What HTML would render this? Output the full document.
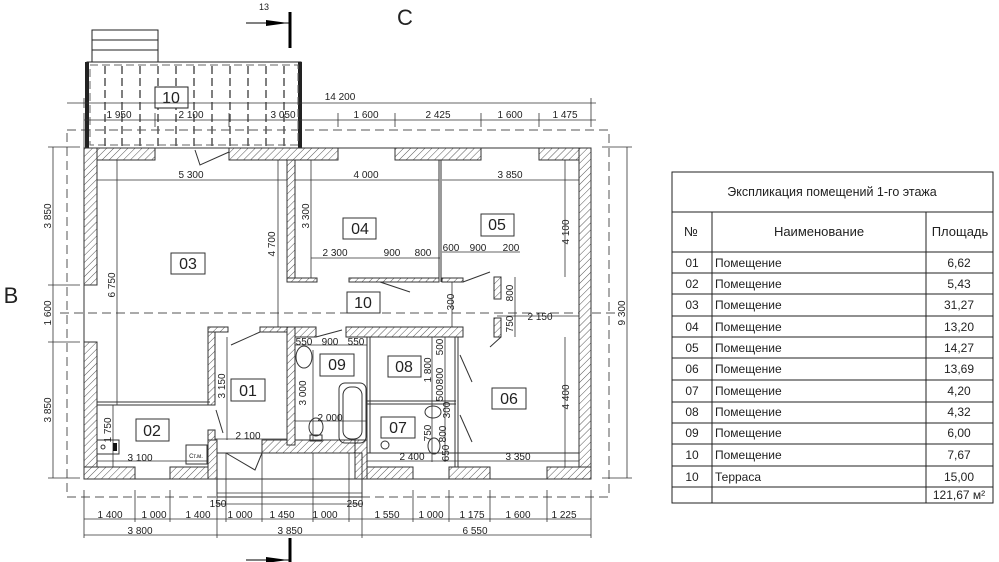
<!DOCTYPE html>
<html><head><meta charset="utf-8"><style>
html,body{margin:0;padding:0;background:#fff;width:999px;height:562px;overflow:hidden}
svg{display:block}
text{font-family:"Liberation Sans",sans-serif;fill:#222}
.d{font-size:10px;text-anchor:middle}
.b{font-size:16px;text-anchor:middle}
.t{font-size:12px}
</style></head><body>
<svg width="999" height="562" viewBox="0 0 999 562" xmlns="http://www.w3.org/2000/svg">
<defs>
<pattern id="h" width="5" height="5" patternUnits="userSpaceOnUse" patternTransform="rotate(45)">
<rect width="5" height="5" fill="#fff"/><line x1="0" y1="0" x2="0" y2="5" stroke="#444" stroke-width="0.9"/>
</pattern>
</defs>
<g stroke="#555" stroke-width="1" fill="none" stroke-dasharray="9,5">
<rect x="67" y="130" width="542" height="367"/>
<line x1="60" y1="313" x2="620" y2="313"/>
</g>
<!-- terrace top -->
<g stroke="#222" fill="none">
<rect x="92" y="30" width="66" height="32" stroke-width="1"/>
<line x1="92" y1="40" x2="158" y2="40"/><line x1="92" y1="50" x2="158" y2="50"/>
<rect x="87" y="62" width="214" height="86" stroke-width="1"/>
<line x1="87" y1="62" x2="87" y2="148" stroke-width="4"/>
<line x1="300" y1="62" x2="300" y2="148" stroke-width="4"/>
<rect x="90" y="65" width="208" height="80" stroke="#666" stroke-dasharray="8,4"/>
<g stroke-dasharray="8,4" stroke-width="1.5" stroke="#555">
<line x1="105" y1="66" x2="105" y2="146"/><line x1="122" y1="66" x2="122" y2="146"/><line x1="140" y1="66" x2="140" y2="146"/>
<line x1="158" y1="66" x2="158" y2="146"/><line x1="176" y1="66" x2="176" y2="146"/><line x1="194" y1="66" x2="194" y2="146"/>
<line x1="212" y1="66" x2="212" y2="146"/><line x1="230" y1="66" x2="230" y2="146"/><line x1="248" y1="66" x2="248" y2="146"/>
<line x1="266" y1="66" x2="266" y2="146"/><line x1="284" y1="66" x2="284" y2="146"/>
</g>
<rect x="155" y="87" width="33" height="21" fill="#fff"/>
</g>
<text x="171" y="103" class="b">10</text>
<!-- section marks -->
<line x1="290" y1="12" x2="290" y2="48" stroke="#000" stroke-width="3"/>
<line x1="246" y1="23" x2="290" y2="23" stroke="#000"/><polygon points="266,20 288,23 266,26" fill="#000"/>
<text x="264" y="10" class="d" style="font-size:9px">13</text>
<text x="405" y="25" style="font-size:22px" text-anchor="middle">C</text>
<line x1="290" y1="538" x2="290" y2="562" stroke="#000" stroke-width="3"/>
<line x1="246" y1="560" x2="290" y2="560" stroke="#000"/><polygon points="266,557 288,560 266,563" fill="#000"/>
<text x="11" y="303" style="font-size:22px" text-anchor="middle">B</text>
<!-- top dims -->
<g stroke="#333" stroke-width="0.8">
<line x1="67" y1="103" x2="596" y2="103"/>
<line x1="84" y1="120" x2="596" y2="120"/>
<line x1="84" y1="113" x2="84" y2="150"/><line x1="155" y1="113" x2="155" y2="127"/><line x1="229" y1="113" x2="229" y2="127"/>
<line x1="338" y1="113" x2="338" y2="127"/><line x1="395" y1="113" x2="395" y2="127"/><line x1="481" y1="113" x2="481" y2="127"/>
<line x1="539" y1="113" x2="539" y2="127"/><line x1="591" y1="98" x2="591" y2="127"/><line x1="84" y1="98" x2="84" y2="108"/>
<line x1="53" y1="147" x2="53" y2="478"/>
<line x1="48" y1="147" x2="80" y2="147"/><line x1="48" y1="285" x2="80" y2="285"/><line x1="48" y1="342" x2="80" y2="342"/><line x1="48" y1="478" x2="80" y2="478"/>
<line x1="627" y1="147" x2="627" y2="478"/>
<line x1="602" y1="147" x2="632" y2="147"/><line x1="602" y1="478" x2="632" y2="478"/>
<line x1="84" y1="519" x2="591" y2="519"/><line x1="84" y1="535" x2="591" y2="535"/>
<line x1="217" y1="504" x2="362" y2="504"/><line x1="217" y1="493" x2="362" y2="493"/>
<g>
<line x1="84" y1="490" x2="84" y2="538"/><line x1="135" y1="490" x2="135" y2="522"/><line x1="170" y1="490" x2="170" y2="522"/>
<line x1="217" y1="453" x2="217" y2="538"/><line x1="262" y1="453" x2="262" y2="522"/><line x1="313" y1="453" x2="313" y2="522"/>
<line x1="349" y1="453" x2="349" y2="522"/><line x1="362" y1="453" x2="362" y2="538"/><line x1="413" y1="490" x2="413" y2="522"/>
<line x1="449" y1="490" x2="449" y2="522"/><line x1="490" y1="490" x2="490" y2="522"/><line x1="547" y1="490" x2="547" y2="522"/>
<line x1="591" y1="490" x2="591" y2="538"/><line x1="226" y1="453" x2="226" y2="522"/>
</g>
<line x1="97" y1="180" x2="287" y2="180"/><line x1="295" y1="180" x2="439" y2="180"/><line x1="442" y1="180" x2="579" y2="180"/>
<line x1="278" y1="160" x2="278" y2="327"/><line x1="117" y1="160" x2="117" y2="405"/>
<line x1="311" y1="160" x2="311" y2="280"/><line x1="565" y1="160" x2="565" y2="277"/>
<line x1="311" y1="258" x2="440" y2="258"/><line x1="442" y1="252" x2="520" y2="252"/>
<line x1="452" y1="282" x2="452" y2="337"/><line x1="515" y1="277" x2="515" y2="337"/><line x1="497" y1="316" x2="579" y2="316"/>
<line x1="295" y1="345" x2="367" y2="345"/><line x1="227" y1="337" x2="227" y2="440"/><line x1="113" y1="405" x2="113" y2="467"/>
<line x1="295" y1="421" x2="367" y2="421"/><line x1="313" y1="350" x2="313" y2="445"/><line x1="215" y1="439" x2="287" y2="439"/>
<line x1="97" y1="461" x2="215" y2="461"/><line x1="367" y1="461" x2="456" y2="461"/><line x1="456" y1="461" x2="579" y2="461"/>
<line x1="432" y1="337" x2="432" y2="462"/><line x1="445" y1="337" x2="445" y2="462"/><line x1="565" y1="337" x2="565" y2="467"/>
</g>
<!-- walls -->
<g stroke="#333" stroke-width="1" fill="url(#h)">
<rect x="84" y="148" width="71" height="12"/><rect x="229" y="148" width="109" height="12"/>
<rect x="395" y="148" width="86" height="12"/><rect x="539" y="148" width="52" height="12"/>
<rect x="84" y="148" width="13" height="137"/><rect x="84" y="342" width="13" height="137"/>
<rect x="579" y="148" width="12" height="331"/>
<rect x="84" y="467" width="51" height="12"/><rect x="170" y="467" width="47" height="12"/>
<rect x="362" y="467" width="51" height="12"/><rect x="449" y="467" width="41" height="12"/><rect x="547" y="467" width="44" height="12"/>
<rect x="208" y="440" width="9" height="39"/><rect x="262" y="440" width="100" height="13"/><rect x="355" y="440" width="12" height="39"/>
<rect x="287" y="160" width="8" height="122"/><rect x="287" y="278" width="30" height="4"/>
<rect x="349" y="278" width="90" height="4"/><rect x="442" y="278" width="21" height="4"/>
<rect x="494" y="277" width="7" height="22"/><rect x="494" y="318" width="7" height="19"/>
<rect x="346" y="327" width="117" height="10"/><rect x="287" y="327" width="29" height="10"/>
<rect x="287" y="327" width="8" height="118"/>
<rect x="208" y="327" width="7" height="78"/><rect x="208" y="327" width="20" height="5"/><rect x="260" y="327" width="27" height="5"/>
<rect x="208" y="430" width="7" height="10"/>
</g>
<g stroke="#333" fill="none" stroke-width="1">
<rect x="84" y="148" width="507" height="331"/>
<line x1="97" y1="160" x2="97" y2="285"/>
<line x1="439" y1="160" x2="439" y2="282"/><line x1="441" y1="160" x2="441" y2="282"/>
<line x1="97" y1="402" x2="210" y2="402"/><line x1="97" y1="405" x2="210" y2="405"/>
<line x1="367" y1="337" x2="367" y2="453"/><line x1="370" y1="337" x2="370" y2="453"/>
<line x1="367" y1="401" x2="456" y2="401"/><line x1="367" y1="404" x2="456" y2="404"/>
<line x1="455" y1="337" x2="455" y2="467"/><line x1="458" y1="337" x2="458" y2="467"/>
<line x1="367" y1="453" x2="579" y2="453"/>
<rect x="217" y="453" width="145" height="44"/>
<polyline points="195,150 200,165 229,152"/>
<polyline points="231,345 260,332"/>
<polyline points="216,410 223,433"/>
<polyline points="226,453 255,470 262,453"/>
<polyline points="316,337 342,330"/>
<polyline points="380,282 410,292"/><polyline points="463,282 490,272"/>
<polyline points="501,337 490,347"/>
<polyline points="460,355 472,382"/><polyline points="460,415 472,442"/>
<rect x="339" y="383" width="27" height="60" rx="6"/><rect x="343" y="387" width="19" height="52" rx="8"/>
<ellipse cx="304" cy="357" rx="8" ry="11"/>
<ellipse cx="316" cy="427" rx="7" ry="9"/><rect x="310" y="435" width="12" height="6"/>
<ellipse cx="433" cy="412" rx="8" ry="6"/>
<ellipse cx="434" cy="446" rx="6" ry="8"/>
<circle cx="385" cy="445" r="4"/>
<rect x="97" y="440" width="22" height="14"/><circle cx="103" cy="447" r="2"/>
<rect x="186" y="445" width="21" height="19"/>
</g>
<rect x="113" y="443" width="4" height="8" fill="#111"/>
<g stroke="#333" fill="#fff">
<rect x="171" y="253" width="34" height="21"/><rect x="343" y="218" width="33" height="21"/>
<rect x="481" y="214" width="33" height="22"/><rect x="492" y="388" width="34" height="21"/>
<rect x="320" y="354" width="34" height="22"/><rect x="388" y="356" width="33" height="21"/>
<rect x="231" y="379" width="34" height="22"/><rect x="136" y="419" width="33" height="22"/>
<rect x="381" y="417" width="34" height="21"/><rect x="347" y="292" width="33" height="21"/>
</g>
<text x="188" y="269" class="b">03</text><text x="360" y="234" class="b">04</text>
<text x="497" y="230" class="b">05</text><text x="509" y="404" class="b">06</text>
<text x="337" y="370" class="b">09</text><text x="404" y="372" class="b">08</text>
<text x="248" y="396" class="b">01</text><text x="152" y="436" class="b">02</text>
<text x="398" y="433" class="b">07</text><text x="363" y="308" class="b">10</text>
<text x="196" y="458" style="font-size:6px" text-anchor="middle">Ст.м.</text>
<text x="340" y="100" class="d">14 200</text>
<text x="119" y="118" class="d">1 950</text><text x="191" y="118" class="d">2 100</text><text x="283" y="118" class="d">3 050</text>
<text x="366" y="118" class="d">1 600</text><text x="438" y="118" class="d">2 425</text><text x="510" y="118" class="d">1 600</text><text x="565" y="118" class="d">1 475</text>
<text x="191" y="178" class="d">5 300</text><text x="366" y="178" class="d">4 000</text><text x="510" y="178" class="d">3 850</text>
<text x="335" y="256" class="d">2 300</text><text x="392" y="256" class="d">900</text><text x="423" y="256" class="d">800</text>
<text x="451" y="251" class="d">600</text><text x="478" y="251" class="d">900</text><text x="511" y="251" class="d">200</text>
<text x="540" y="320" class="d">2 150</text>
<text x="304" y="345" class="d">550</text><text x="330" y="345" class="d">900</text><text x="356" y="345" class="d">550</text>
<text x="330" y="421" class="d">2 000</text><text x="248" y="439" class="d">2 100</text><text x="140" y="461" class="d">3 100</text>
<text x="412" y="460" class="d">2 400</text><text x="518" y="460" class="d">3 350</text>
<text x="218" y="507" class="d">150</text><text x="355" y="507" class="d">250</text>
<text x="110" y="518" class="d">1 400</text><text x="154" y="518" class="d">1 000</text><text x="198" y="518" class="d">1 400</text>
<text x="240" y="518" class="d">1 000</text><text x="282" y="518" class="d">1 450</text><text x="325" y="518" class="d">1 000</text>
<text x="387" y="518" class="d">1 550</text><text x="431" y="518" class="d">1 000</text><text x="472" y="518" class="d">1 175</text>
<text x="518" y="518" class="d">1 600</text><text x="564" y="518" class="d">1 225</text>
<text x="140" y="534" class="d">3 800</text><text x="290" y="534" class="d">3 850</text><text x="475" y="534" class="d">6 550</text>
<g class="d">
<text transform="translate(51,216) rotate(-90)" class="d">3 850</text>
<text transform="translate(51,313) rotate(-90)" class="d">1 600</text>
<text transform="translate(51,410) rotate(-90)" class="d">3 850</text>
<text transform="translate(625,313) rotate(-90)" class="d">9 300</text>
<text transform="translate(275,244) rotate(-90)" class="d">4 700</text>
<text transform="translate(115,285) rotate(-90)" class="d">6 750</text>
<text transform="translate(309,216) rotate(-90)" class="d">3 300</text>
<text transform="translate(569,232) rotate(-90)" class="d">4 100</text>
<text transform="translate(569,397) rotate(-90)" class="d">4 400</text>
<text transform="translate(454,302) rotate(-90)" class="d">300</text>
<text transform="translate(513,293) rotate(-90)" class="d">800</text>
<text transform="translate(513,324) rotate(-90)" class="d">750</text>
<text transform="translate(225,386) rotate(-90)" class="d">3 150</text>
<text transform="translate(111,430) rotate(-90)" class="d">1 750</text>
<text transform="translate(306,393) rotate(-90)" class="d">3 000</text>
<text transform="translate(431,370) rotate(-90)" class="d">1 800</text>
<text transform="translate(443,347) rotate(-90)" class="d">500</text>
<text transform="translate(443,376) rotate(-90)" class="d">800</text>
<text transform="translate(443,393) rotate(-90)" class="d">500</text>
<text transform="translate(450,410) rotate(-90)" class="d">300</text>
<text transform="translate(431,433) rotate(-90)" class="d">750</text>
<text transform="translate(446,434) rotate(-90)" class="d">800</text>
<text transform="translate(449,453) rotate(-90)" class="d">650</text>
</g>
<g stroke="#222" stroke-width="1" fill="none">
<rect x="672" y="172" width="321" height="331"/>
<line x1="672" y1="212" x2="993" y2="212"/>
<line x1="712" y1="212" x2="712" y2="503"/><line x1="926" y1="212" x2="926" y2="503"/>
<line x1="672" y1="252" x2="993" y2="252"/><line x1="672" y1="273" x2="993" y2="273"/>
<line x1="672" y1="294" x2="993" y2="294"/><line x1="672" y1="316" x2="993" y2="316"/>
<line x1="672" y1="337" x2="993" y2="337"/><line x1="672" y1="358" x2="993" y2="358"/>
<line x1="672" y1="380" x2="993" y2="380"/><line x1="672" y1="402" x2="993" y2="402"/>
<line x1="672" y1="423" x2="993" y2="423"/><line x1="672" y1="444" x2="993" y2="444"/>
<line x1="672" y1="466" x2="993" y2="466"/><line x1="672" y1="487" x2="993" y2="487"/>
</g>
<text x="832" y="196" text-anchor="middle" style="font-size:12.5px">Экспликация помещений 1-го этажа</text>
<text x="691" y="236" text-anchor="middle" style="font-size:13px">№</text>
<text x="819" y="236" text-anchor="middle" style="font-size:13px">Наименование</text>
<text x="960" y="236" text-anchor="middle" style="font-size:13px">Площадь</text>
<g class="t">
<text x="692" y="267" text-anchor="middle">01</text><text x="715" y="267">Помещение</text><text x="959" y="267" text-anchor="middle">6,62</text>
<text x="692" y="288" text-anchor="middle">02</text><text x="715" y="288">Помещение</text><text x="959" y="288" text-anchor="middle">5,43</text>
<text x="692" y="309" text-anchor="middle">03</text><text x="715" y="309">Помещение</text><text x="959" y="309" text-anchor="middle">31,27</text>
<text x="692" y="331" text-anchor="middle">04</text><text x="715" y="331">Помещение</text><text x="959" y="331" text-anchor="middle">13,20</text>
<text x="692" y="352" text-anchor="middle">05</text><text x="715" y="352">Помещение</text><text x="959" y="352" text-anchor="middle">14,27</text>
<text x="692" y="373" text-anchor="middle">06</text><text x="715" y="373">Помещение</text><text x="959" y="373" text-anchor="middle">13,69</text>
<text x="692" y="395" text-anchor="middle">07</text><text x="715" y="395">Помещение</text><text x="959" y="395" text-anchor="middle">4,20</text>
<text x="692" y="416" text-anchor="middle">08</text><text x="715" y="416">Помещение</text><text x="959" y="416" text-anchor="middle">4,32</text>
<text x="692" y="437" text-anchor="middle">09</text><text x="715" y="437">Помещение</text><text x="959" y="437" text-anchor="middle">6,00</text>
<text x="692" y="459" text-anchor="middle">10</text><text x="715" y="459">Помещение</text><text x="959" y="459" text-anchor="middle">7,67</text>
<text x="692" y="481" text-anchor="middle">10</text><text x="715" y="481">Терраса</text><text x="959" y="481" text-anchor="middle">15,00</text>
<text x="959" y="499" text-anchor="middle">121,67 м²</text>
</g>
</svg>
</body></html>
